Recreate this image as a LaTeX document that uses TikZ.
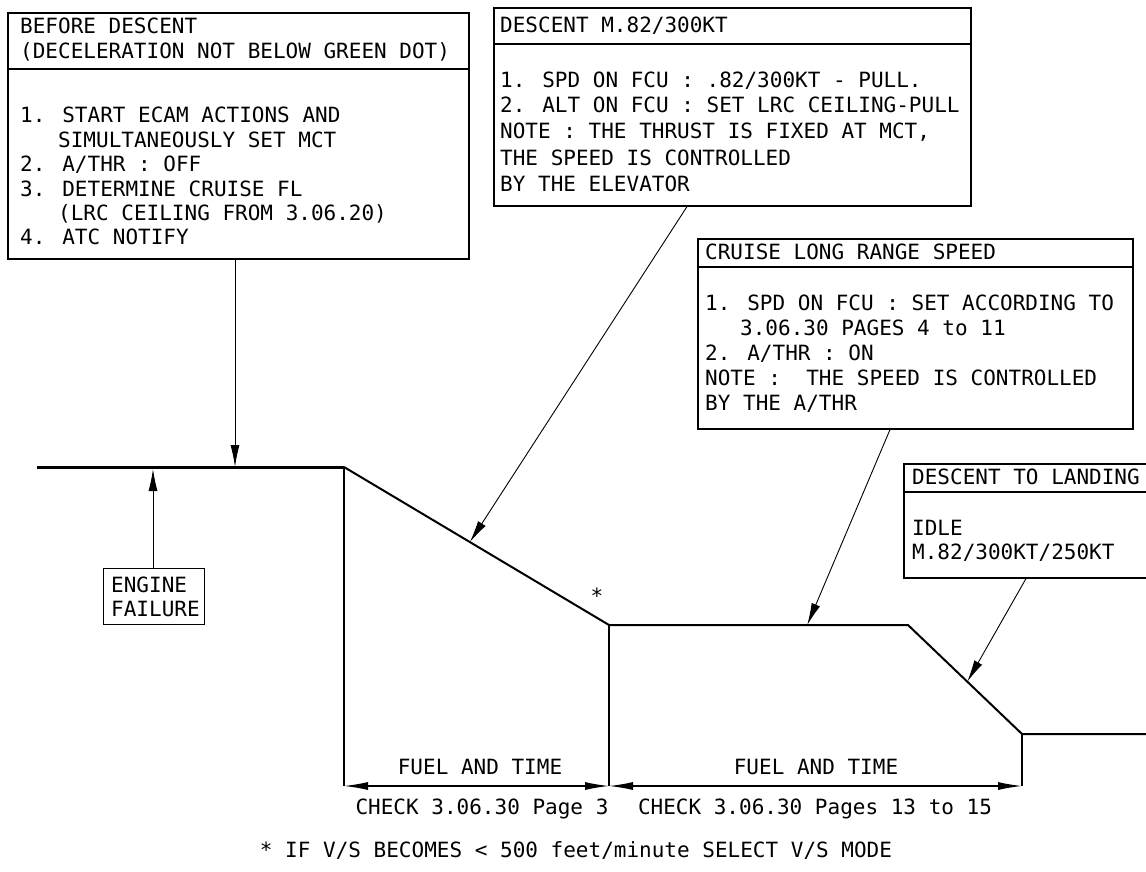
\documentclass[tikz,border=0pt]{standalone}
\usepackage{fontspec}
\newfontfamily\monof{DejaVu Sans Mono}
\usetikzlibrary{arrows.meta,calc}
\begin{document}
\begin{tikzpicture}[x=1pt,y=-1pt,
  frame/.style={draw, line width=1.6pt, inner sep=0pt, anchor=north west},
  divider/.style={line width=1.6pt},
  txt/.style={font=\monof\fontsize{21}{25}\selectfont, anchor=west, inner sep=0pt, text height=15pt, text depth=0pt},
  ctxt/.style={txt, anchor=center},
  leader/.style={line width=0.9pt, -{Latex[length=22pt,width=9pt]}},
  prof/.style={line width=2pt, line join=miter},
  vline/.style={line width=1.2pt},
  dimline/.style={line width=1.3pt, {Latex[length=24pt,width=8pt]}-{Latex[length=24pt,width=8pt]}}]
\fill[white] (0,0) rectangle (1146,872);
\useasboundingbox (0,0) rectangle (1146,872);

% ---- Box 1: before descent
\node[frame, minimum width=461pt, minimum height=246pt] (b1) at (7,12) {};
\coordinate (b1d) at (0,69);
\draw[divider] (b1.west |- b1d) -- (b1.east |- b1d);
\node[txt] (b1h1) at (20,26) {BEFORE DESCENT};
\node[txt] (b1h2) at (20,51) {(DECELERATION NOT BELOW GREEN DOT)};
\node[txt] (b1l1) at (20,115) {1. START ECAM ACTIONS AND};
\node[txt] (b1l2) at (58,140) {SIMULTANEOUSLY SET MCT};
\node[txt] (b1l3) at (20,164) {2. A/THR : OFF};
\node[txt] (b1l4) at (20,189) {3. DETERMINE CRUISE FL};
\node[txt] (b1l5) at (58,213) {(LRC CEILING FROM 3.06.20)};
\node[txt] (b1l6) at (20,237) {4. ATC NOTIFY};

% ---- Box 2: descent M.82/300KT
\node[frame, minimum width=477pt, minimum height=198pt] (b2) at (493,7) {};
\coordinate (b2d) at (0,44);
\draw[divider] (b2.west |- b2d) -- (b2.east |- b2d);
\node[txt] (b2h) at (500,25) {DESCENT M.82/300KT};
\node[txt] (b2l1) at (500,80) {1. SPD ON FCU : .82/300KT - PULL.};
\node[txt] (b2l2) at (500,105) {2. ALT ON FCU : SET LRC CEILING-PULL};
\node[txt] (b2l3) at (500,131) {NOTE : THE THRUST IS FIXED AT MCT,};
\node[txt] (b2l4) at (500,158) {THE SPEED IS CONTROLLED};
\node[txt] (b2l5) at (500,184) {BY THE ELEVATOR};

% ---- Box 3: cruise long range speed
\node[frame, minimum width=435pt, minimum height=190pt] (b3) at (697,238) {};
\coordinate (b3d) at (0,267);
\draw[divider] (b3.west |- b3d) -- (b3.east |- b3d);
\node[txt] (b3h) at (705,252) {CRUISE LONG RANGE SPEED};
\node[txt] (b3l1) at (705,303) {1. SPD ON FCU : SET ACCORDING TO};
\node[txt] (b3l2) at (740,328) {3.06.30 PAGES 4 to 11};
\node[txt] (b3l3) at (705,353) {2. A/THR : ON};
\node[txt] (b3l4) at (705,378) {NOTE :\ \ THE SPEED IS CONTROLLED};
\node[txt] (b3l5) at (705,403) {BY THE A/THR};

% ---- Box 4: descent to landing
\node[frame, minimum width=250pt, minimum height=114pt] (b4) at (903,463) {};
\coordinate (b4d) at (0,492);
\draw[divider] (b4.west |- b4d) -- (b4.east |- b4d);
\node[txt] (b4h) at (912,477) {DESCENT TO LANDING};
\node[txt] (b4l1) at (912,528) {IDLE};
\node[txt] (b4l2) at (912,552) {M.82/300KT/250KT};

% ---- Engine failure box
\node[frame, minimum width=101pt, minimum height=56pt, line width=1.2pt] (eng) at (103,568) {};
\node[txt] (engl1) at (111,585) {ENGINE};
\node[txt] (engl2) at (111,609) {FAILURE};

% ---- flight profile
\coordinate (p0) at (37,467);
\coordinate (p1) at (344,467);
\coordinate (p2) at (609,625);
\coordinate (p3) at (908,625);
\coordinate (p4) at (1022,734);
\coordinate (p5) at (1150,734);
\draw[line width=3pt] (p0) -- (p1);
\draw[prof] (p1) -- (p2) -- (p3) -- (p4) -- (p5);

% ---- verticals and dimensions
\coordinate (dimy) at (0,786);
\draw[vline] (p1) -- (p1 |- dimy);
\draw[vline] (p2) -- (p2 |- dimy);
\draw[vline] (p4) -- (p4 |- dimy);
\draw[dimline] (p1 |- dimy) -- (p2 |- dimy);
\draw[dimline] (p2 |- dimy) -- (p4 |- dimy);

\node[ctxt] (fuel1) at (480,767) {FUEL AND TIME};
\node[ctxt] (fuel2) at (816,767) {FUEL AND TIME};
\node[ctxt] (chk1) at (482,807) {CHECK 3.06.30 Page 3};
\node[ctxt] (chk2) at (815,807) {CHECK 3.06.30 Pages 13 to 15};
\node[ctxt] (star) at (597,596) {*};
\node[ctxt] (foot) at (576,850) {* IF V/S BECOMES < 500 feet/minute SELECT V/S MODE};

% ---- leaders
\coordinate (t1) at (235,467);
\draw[leader] (b1.south -| t1) -- (t1);
\coordinate (te) at (153,469);
\draw[leader] (eng.north -| te) -- (te);
\coordinate (s2) at (687,0);
\coordinate (t2) at ($(p1)!0.475!(p2)$);
\draw[leader] (b2.south -| s2) -- (t2);
\coordinate (s3) at (890,0);
\coordinate (t3) at ($(p2)!0.663!(p3)$);
\draw[leader] (b3.south -| s3) -- (t3);
\coordinate (s4) at (1026,0);
\coordinate (t4) at ($(p3)!0.52!(p4)$);
\draw[leader] (b4.south -| s4) -- (t4);
\end{tikzpicture}
\end{document}
